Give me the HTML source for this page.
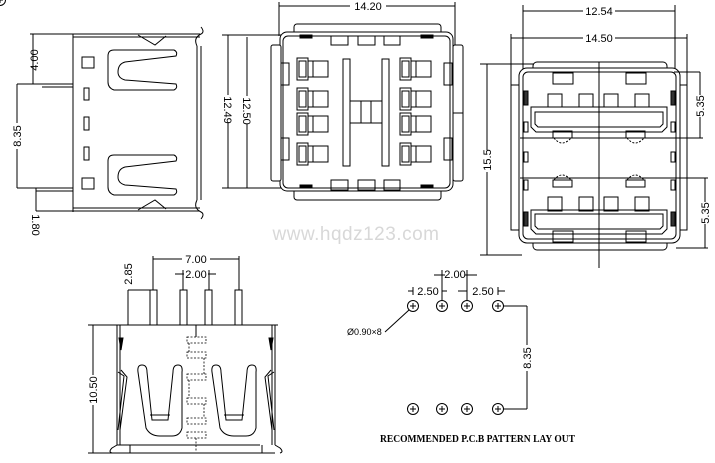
<!DOCTYPE html>
<html><head><meta charset="utf-8"><style>
html,body{margin:0;padding:0;background:#fff;}
svg{display:block;}
text{font-family:"Liberation Sans",sans-serif;font-size:11px;fill:#000;}
</style></head><body>
<svg width="715" height="463" viewBox="0 0 715 463" xmlns="http://www.w3.org/2000/svg">
<g stroke="#000" stroke-width="1" fill="none">
<!-- ===== VIEW 1 (side) ===== -->
<line x1="30" y1="34" x2="200" y2="34"/>
<line x1="73" y1="34" x2="73" y2="212"/>
<line x1="73" y1="211" x2="200" y2="211"/>
<line x1="73" y1="37" x2="200" y2="37"/>
<line x1="73" y1="208" x2="200" y2="208"/>
<line x1="197" y1="46" x2="197" y2="200"/>
<line x1="201" y1="46" x2="201" y2="200"/>
<path d="M197 46 Q193 38 201 34 Q205 32 201 27"/>
<path d="M197 200 Q193 208 201 212 Q205 214 201 219"/>
<path d="M138 35 L155 45 L166 36"/>
<path d="M138 210 L155 200 L166 209"/>
<rect x="82" y="57" width="12" height="11"/>
<rect x="82" y="178" width="12" height="11"/>
<rect x="84" y="88" width="5" height="12"/>
<rect x="84" y="117" width="5" height="13"/>
<rect x="84" y="147" width="5" height="13"/>
<path d="M114 50 L174 50 Q178 52 176 56 L125 62 Q118 64 118 72 Q118 78 125 80 L176 84 Q178 88 174 90 L114 90 Q108 88 108 82 L108 56 Q108 50 114 50 Z"/>
<path d="M114 155 L174 155 Q178 157 176 161 L125 167 Q118 169 118 177 Q118 183 125 185 L176 189 Q178 193 174 195 L114 195 Q108 193 108 187 L108 161 Q108 155 114 155 Z"/>
<line x1="17" y1="84" x2="73" y2="84"/>
<line x1="42" y1="87" x2="73" y2="87"/>
<line x1="17" y1="188" x2="73" y2="188"/>
<line x1="36" y1="191" x2="73" y2="191"/>
<line x1="33" y1="34" x2="33" y2="84"/>
<line x1="17" y1="84" x2="17" y2="188"/>
<line x1="36" y1="188" x2="36" y2="211"/>
<line x1="36" y1="211" x2="73" y2="211"/>
<!-- ===== VIEW 2 (top) ===== -->
<line x1="279" y1="6" x2="455" y2="6"/>
<line x1="279" y1="2" x2="279" y2="36"/>
<line x1="455" y1="2" x2="455" y2="46"/>
<line x1="228" y1="35" x2="228" y2="188"/>
<line x1="222" y1="35" x2="282" y2="35"/>
<line x1="222" y1="188" x2="282" y2="188"/>
<line x1="247" y1="37" x2="247" y2="188"/>
<rect x="294" y="24" width="147" height="176" rx="3"/>
<rect x="280" y="32" width="173" height="159" rx="7" fill="#fff"/>
<rect x="283" y="36" width="167" height="152" rx="5"/>
<rect x="271" y="45" width="10" height="136" rx="2" fill="#fff"/>
<rect x="453" y="45" width="10" height="136" rx="2" fill="#fff"/>
<rect x="281" y="63" width="8" height="22"/><rect x="281" y="138" width="8" height="22"/>
<rect x="444" y="63" width="8" height="22"/><rect x="444" y="138" width="8" height="22"/>
<line x1="453" y1="113" x2="463" y2="113"/>
<rect x="331" y="36" width="17" height="9"/><rect x="358" y="36" width="17" height="9"/><rect x="384" y="36" width="16" height="9"/>
<rect x="331" y="180" width="17" height="10"/><rect x="358" y="180" width="17" height="10"/><rect x="384" y="180" width="16" height="10"/>
<rect x="300" y="35" width="12" height="3" fill="#000"/><rect x="421" y="35" width="12" height="3" fill="#000"/>
<rect x="300" y="185" width="12" height="3" fill="#000"/><rect x="421" y="185" width="12" height="3" fill="#000"/>
<g id="slotL">
<rect x="297" y="58" width="11" height="22"/><rect x="299" y="61" width="7" height="16"/><rect x="308" y="61" width="20" height="16"/><line x1="313" y1="61" x2="313" y2="77"/>
</g>
<use href="#slotL" y="30"/><use href="#slotL" y="55"/><use href="#slotL" y="85"/>
<g id="slotR">
<rect x="400" y="58" width="11" height="22"/><rect x="402" y="61" width="7" height="16"/><rect x="411" y="61" width="20" height="16"/><line x1="416" y1="61" x2="416" y2="77"/>
</g>
<use href="#slotR" y="30"/><use href="#slotR" y="55"/><use href="#slotR" y="85"/>
<rect x="343" y="59" width="7" height="107"/><rect x="382" y="59" width="7" height="107"/>
<rect x="350" y="101" width="32" height="22"/><line x1="361" y1="101" x2="361" y2="123"/><line x1="371" y1="101" x2="371" y2="123"/>
<!-- ===== VIEW 3 (front) ===== -->
<line x1="523" y1="11" x2="675" y2="11"/>
<line x1="523" y1="5" x2="523" y2="75"/><line x1="675" y1="5" x2="675" y2="75"/>
<line x1="511" y1="38" x2="687" y2="38"/>
<line x1="511" y1="34" x2="511" y2="86"/><line x1="687" y1="34" x2="687" y2="86"/>
<line x1="487" y1="64" x2="487" y2="255"/>
<line x1="480" y1="64" x2="534" y2="64"/><line x1="480" y1="255" x2="522" y2="255"/>
<rect x="533" y="62" width="134" height="188" rx="4"/>
<rect x="511" y="85" width="10" height="145" fill="#fff"/>
<rect x="677" y="85" width="10" height="145" fill="#fff"/>
<rect x="519" y="68" width="161" height="175" rx="8" fill="#fff"/>
<rect x="523" y="72" width="153" height="167" rx="5"/>
<line x1="674" y1="72" x2="700" y2="72"/>
<line x1="700" y1="72" x2="700" y2="138"/>
<line x1="520" y1="138" x2="703" y2="138"/>
<line x1="520" y1="178" x2="708" y2="178"/>
<line x1="705" y1="178" x2="705" y2="248"/>
<line x1="676" y1="248" x2="708" y2="248"/>
<rect x="553" y="73" width="20" height="11"/><rect x="626" y="73" width="20" height="11"/>
<rect x="548" y="94" width="14" height="13"/><rect x="579" y="94" width="14" height="13"/><rect x="604" y="94" width="14" height="13"/><rect x="635" y="94" width="14" height="13"/>
<path d="M531 107 L667 107 L667 127 L662 132 L536 132 L531 127 Z"/>
<path d="M535 112 L663 112 L663 124 L660 127 L538 127 L535 124 Z"/>
<rect x="553" y="131" width="19" height="7"/><rect x="626" y="131" width="19" height="7"/>
<path d="M554 138 Q562 148 571 138 M627 138 Q635 148 644 138" stroke-dasharray="2,1.5"/>
<path d="M554 180 Q562 170 571 180 M627 180 Q635 170 644 180" stroke-dasharray="2,1.5"/>
<rect x="553" y="180" width="19" height="7"/><rect x="626" y="180" width="19" height="7"/>
<rect x="548" y="197" width="14" height="14"/><rect x="579" y="197" width="14" height="14"/><rect x="604" y="197" width="14" height="14"/><rect x="635" y="197" width="14" height="14"/>
<path d="M531 210 L667 210 L667 229 L662 234 L536 234 L531 229 Z"/>
<path d="M535 214 L663 214 L663 226 L660 229 L538 229 L535 226 Z"/>
<rect x="553" y="231" width="20" height="11"/><rect x="626" y="231" width="20" height="11"/>
<rect x="524" y="91" width="4" height="14" fill="#333"/><rect x="671" y="91" width="4" height="14" fill="#333"/>
<rect x="524" y="212" width="4" height="14" fill="#333"/><rect x="671" y="212" width="4" height="14" fill="#333"/>
<rect x="524" y="122" width="4" height="10"/><rect x="671" y="122" width="4" height="10"/>
<rect x="524" y="152" width="4" height="10"/><rect x="671" y="152" width="4" height="10"/>
<rect x="524" y="180" width="4" height="10"/><rect x="671" y="180" width="4" height="10"/>
<line x1="599" y1="62" x2="599" y2="268"/>
<!-- ===== VIEW 4 (bottom-left) ===== -->
<line x1="153" y1="259" x2="239" y2="259"/>
<line x1="153" y1="256" x2="153" y2="290"/><line x1="239" y1="256" x2="239" y2="290"/>
<line x1="175" y1="274" x2="216" y2="274"/>
<line x1="183" y1="270" x2="183" y2="290"/><line x1="209" y1="270" x2="209" y2="290"/>
<line x1="128" y1="290" x2="150" y2="290"/><line x1="128" y1="290" x2="128" y2="325"/>
<rect x="150" y="290" width="7" height="35"/><rect x="180" y="290" width="7" height="35"/><rect x="205" y="290" width="7" height="35"/><rect x="235" y="290" width="7" height="35"/>
<line x1="88" y1="325" x2="278" y2="325"/>
<line x1="93" y1="325" x2="93" y2="453"/>
<line x1="88" y1="453" x2="275" y2="453"/>
<line x1="117" y1="325" x2="117" y2="445"/><line x1="120" y1="325" x2="120" y2="445"/>
<line x1="275" y1="325" x2="275" y2="445"/><line x1="272" y1="325" x2="272" y2="445"/>
<path d="M119 338 L121 350 L123 338 Z M273 338 L271 350 L269 338 Z" fill="#000"/>
<path d="M117 445 L112 448 Q108 452 112 453 M130 445 L130 453 M117 445 L260 445 M262 445 L262 453 M275 445 L280 448 Q284 452 280 453"/>
<path d="M118 372 L124 376 L118 430 M121 370 L127 377 L120 430"/>
<path d="M274 372 L268 376 L274 430 M271 370 L265 377 L272 430"/>
<path d="M142 365 Q137 365 138 372 L146 428 Q150 436 160 436 L172 436 Q180 436 182 428 L182 372 Q183 365 178 365 Q173 365 173 372 L168 420 L152 420 L147 372 Q147 365 142 365 Z"/>
<line x1="150" y1="415" x2="170" y2="415"/>
<path d="M216 365 Q211 365 212 372 L220 428 Q224 436 234 436 L246 436 Q254 436 256 428 L256 372 Q257 365 252 365 Q247 365 247 372 L242 420 L226 420 L221 372 Q221 365 216 365 Z"/>
<line x1="224" y1="415" x2="244" y2="415"/>
<line x1="196" y1="325" x2="196" y2="337"/>
<g stroke-dasharray="2,1.5" stroke-width="0.8">
<rect x="187" y="337" width="19" height="6"/><rect x="187" y="352" width="19" height="6"/><rect x="187" y="374" width="19" height="6"/><rect x="187" y="398" width="19" height="6"/><rect x="187" y="418" width="19" height="6"/><rect x="187" y="432" width="19" height="6"/>
<line x1="189" y1="343" x2="189" y2="352"/><line x1="204" y1="358" x2="204" y2="374"/><line x1="189" y1="380" x2="189" y2="398"/><line x1="204" y1="404" x2="204" y2="418"/><line x1="196" y1="438" x2="196" y2="452"/>
</g>
<!-- ===== VIEW 5 (PCB) ===== -->
<g id="hole"><circle cx="0" cy="0" r="5.5"/><line x1="-3" y1="0" x2="3" y2="0"/><line x1="0" y1="-3" x2="0" y2="3"/></g>
<use href="#hole" x="413" y="306"/><use href="#hole" x="442" y="306"/><use href="#hole" x="467" y="306"/><use href="#hole" x="498" y="306"/>
<use href="#hole" x="413" y="409"/><use href="#hole" x="442" y="409"/><use href="#hole" x="467" y="409"/><use href="#hole" x="498" y="409"/>
<line x1="503" y1="306" x2="527" y2="306"/><line x1="527" y1="306" x2="527" y2="409"/><line x1="503" y1="409" x2="527" y2="409"/>
<line x1="434" y1="275" x2="477" y2="275"/><line x1="442" y1="270" x2="442" y2="300"/><line x1="467" y1="270" x2="467" y2="300"/>
<line x1="408" y1="291" x2="413" y2="291"/><line x1="413" y1="287" x2="413" y2="295"/>
<line x1="442" y1="291" x2="447" y2="291"/><line x1="458" y1="291" x2="467" y2="291"/>
<line x1="498" y1="287" x2="498" y2="295"/><line x1="498" y1="291" x2="505" y2="291"/>
<line x1="385" y1="332" x2="409" y2="310"/>
</g>
<!-- Text -->
<text transform="translate(38,60) rotate(-90)" text-anchor="middle">4.00</text>
<rect x="12" y="123" width="10" height="26" fill="#fff"/>
<text transform="translate(21,136) rotate(-90)" text-anchor="middle">8.35</text>
<text transform="translate(32,225) rotate(90)" text-anchor="middle">1.80</text>
<rect x="350" y="0" width="36" height="12" fill="#fff"/>
<text x="368" y="10" text-anchor="middle">14.20</text>
<rect x="222" y="95" width="12" height="28" fill="#fff"/>
<text transform="translate(224,110) rotate(90)" text-anchor="middle">12.49</text>
<rect x="241" y="96" width="12" height="28" fill="#fff"/>
<text transform="translate(243,111) rotate(90)" text-anchor="middle">12.50</text>
<text x="356" y="240" text-anchor="middle" style="font-size:19px;fill:#d8d8d8;letter-spacing:0.5px">www.hqdz123.com</text>
<rect x="583" y="5" width="32" height="12" fill="#fff"/>
<text x="599" y="15" text-anchor="middle">12.54</text>
<rect x="583" y="32" width="32" height="12" fill="#fff"/>
<text x="599" y="42" text-anchor="middle">14.50</text>
<rect x="481" y="150" width="12" height="22" fill="#fff"/>
<text transform="translate(491,160) rotate(-90)" text-anchor="middle">15.5</text>
<rect x="694" y="95" width="12" height="22" fill="#fff"/>
<text transform="translate(704,106) rotate(-90)" text-anchor="middle">5.35</text>
<rect x="699" y="202" width="12" height="22" fill="#fff"/>
<text transform="translate(709,213) rotate(-90)" text-anchor="middle">5.35</text>
<rect x="182" y="253" width="28" height="12" fill="#fff"/>
<text x="196" y="263" text-anchor="middle">7.00</text>
<rect x="184" y="268" width="24" height="12" fill="#fff"/>
<text x="196" y="278" text-anchor="middle">2.00</text>
<text transform="translate(132,274) rotate(-90)" text-anchor="middle">2.85</text>
<rect x="86" y="375" width="12" height="30" fill="#fff"/>
<text transform="translate(97,390) rotate(-90)" text-anchor="middle">10.50</text>
<rect x="445" y="269" width="20" height="12" fill="#fff"/>
<text x="455" y="278" text-anchor="middle">2.00</text>
<text x="428" y="295" text-anchor="middle">2.50</text>
<text x="483" y="295" text-anchor="middle">2.50</text>
<text x="347" y="335" style="font-size:9px">Ø0.90×8</text>
<rect x="521" y="345" width="12" height="26" fill="#fff"/>
<text x="0" y="0" transform="translate(531,358) rotate(-90)" text-anchor="middle">8.35</text>
<text x="380" y="442" textLength="195" lengthAdjust="spacingAndGlyphs" style="font-family:'Liberation Serif',serif;font-size:10px;font-weight:bold">RECOMMENDED P.C.B PATTERN LAY OUT</text>
</svg>
</body></html>
